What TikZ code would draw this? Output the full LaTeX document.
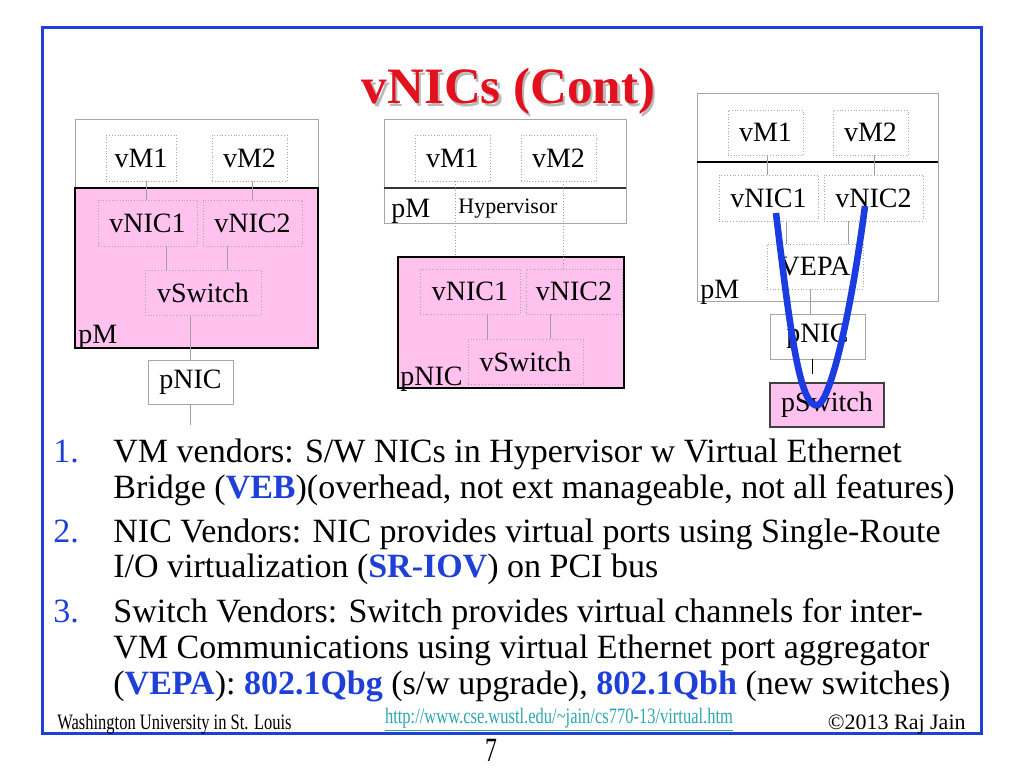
\documentclass[tikz,border=0pt]{standalone}
\usepackage{fontspec}
\setmainfont{Liberation Serif}
\usetikzlibrary{positioning,calc}
\definecolor{Fcolor}{HTML}{1E40D8}
\definecolor{Tcolor}{HTML}{E3101E}
\definecolor{Pcolor}{HTML}{FFC2EE}
\definecolor{Lcolor}{HTML}{2AA7B0}
\definecolor{Ucolor}{HTML}{1A3CE0}
\newcommand{\hilite}[1]{\textbf{\textcolor{Fcolor}{#1}}}

\begin{document}
\begin{tikzpicture}[
  x=0.5pt, y=-0.5pt,
  vbox/.style={draw=gray!70, densely dotted, inner sep=0pt, font=\fontsize{14}{16}\selectfont},
  pbox/.style={draw=gray!70, inner sep=0pt, font=\fontsize{14}{16}\selectfont},
  hostbox/.style={draw=gray!70, inner sep=0pt},
  pinkbox/.style={draw=black, fill=Pcolor, line width=0.8pt, inner sep=0pt},
  lbl/.style={anchor=base west, inner sep=0pt, font=\fontsize{14}{16}\selectfont},
  txt/.style={anchor=base west, inner sep=0pt, font=\fontsize{17}{20}\selectfont},
  num/.style={txt, text=Fcolor},
  foot/.style={inner sep=0pt, font=\fontsize{11}{13}\selectfont},
  link/.style={gray!75, thin},
  dlink/.style={gray!75, thin, densely dotted},
]
  \useasboundingbox (0,0) rectangle (1024,768);
  \draw[Fcolor, line width=1.5pt] (42,27) rectangle (981,733);

  % title
  \node[font=\bfseries\fontsize{25.5}{30}\selectfont, text=gray!55, anchor=base] (titleshadow) at (511,106) {vNICs (Cont)};
  \node[font=\bfseries\fontsize{25.5}{30}\selectfont, text=Tcolor, anchor=base] (title) at (508.5,103) {vNICs (Cont)};

  % software vNICs in the hypervisor
  \node[hostbox, minimum width=121.5pt, minimum height=114.5pt] (hosta) at (196.5,233.5) {};
  \node[pinkbox, minimum width=121.5pt, minimum height=80pt] (pinka) at (196.5,268) {};
  \node[vbox, minimum width=35pt, minimum height=23pt] (vma1) at (141,158) {vM1};
  \node[vbox, minimum width=37.5pt, minimum height=23pt] (vma2) at (249.5,158) {vM2};
  \node[vbox, minimum width=49.5pt, minimum height=23pt] (nica1) at (147.5,223) {vNIC1};
  \node[vbox, minimum width=49.5pt, minimum height=23pt] (nica2) at (252.5,223) {vNIC2};
  \node[vbox, minimum width=58pt, minimum height=22.5pt] (swa) at (203,292.5) {vSwitch};
  \node[lbl] (pma) at (78,343) {pM};
  \node[pbox, minimum width=42.5pt, minimum height=22pt] (pnica) at (190.5,382) {pNIC};
  \coordinate (pnicaend) at (190.5,425);

  \foreach \a/\b/\dx in {vma1/nica1/-0.75, vma2/nica2/0, nica1/swa/-18.5, nica2/swa/12, swa/pnica/0} {
    \draw[link] ([xshift=\dx pt]\b.north) -- ([xshift=\dx pt]\b.north |- \a.south);
  }
  \draw[link] (pnica.south) -- (pnicaend);

  % SR-IOV in the pNIC
  \node[hostbox, minimum width=121pt, minimum height=52pt] (hostb) at (505,171) {};
  \draw[black!80, semithick] (hostb.west |- 0,188) -- (hostb.east |- 0,188);
  \node[vbox, minimum width=37.5pt, minimum height=23pt] (vmb1) at (452.5,158) {vM1};
  \node[vbox, minimum width=37.5pt, minimum height=23pt] (vmb2) at (558.5,158) {vM2};
  \node[lbl] (pmb) at (391,217) {pM};
  \node[lbl, font=\fontsize{11}{13}\selectfont] (hyp) at (458,213) {Hypervisor};
  \node[pinkbox, minimum width=113pt, minimum height=65.5pt] (pinkb) at (511,322.5) {};
  \node[vbox, minimum width=50pt, minimum height=22.5pt] (nicb1) at (470,291.5) {vNIC1};
  \node[vbox, minimum width=48pt, minimum height=22.5pt] (nicb2) at (574,291.5) {vNIC2};
  \node[vbox, minimum width=57.5pt, minimum height=22.5pt] (swb) at (525.5,361.5) {vSwitch};
  \node[lbl] (pnicb) at (400,385) {pNIC};

  \draw[dlink] ([xshift=1.25pt]vmb1.south) -- ([xshift=1.25pt]vmb1.south |- pinkb.north);
  \draw[dlink] ([xshift=2.25pt]vmb2.south) -- ([xshift=2.25pt]vmb2.south |- nicb2.north);
  \foreach \a/\b/\dx in {nicb1/swb/-19.25, nicb2/swb/12.25} {
    \draw[link] ([xshift=\dx pt]\b.north) -- ([xshift=\dx pt]\b.north |- \a.south);
  }

  % VEPA in the pSwitch
  \node[hostbox, minimum width=120.5pt, minimum height=104pt] (hostc) at (817.5,197) {};
  \draw[black, semithick] (hostc.west |- 0,162) -- (hostc.east |- 0,162);
  \node[vbox, minimum width=37.5pt, minimum height=22.5pt] (vmc1) at (765.5,132.5) {vM1};
  \node[vbox, minimum width=37.5pt, minimum height=22.5pt] (vmc2) at (870.5,132.5) {vM2};
  \node[vbox, minimum width=49.5pt, minimum height=23pt] (nicc1) at (768.5,198) {vNIC1};
  \node[vbox, minimum width=49.5pt, minimum height=23pt] (nicc2) at (873.5,198) {vNIC2};
  \node[vbox, minimum width=48pt, minimum height=22.5pt] (vepa) at (815,266.5) {VEPA};
  \node[lbl] (pmc) at (700,298) {pM};
  \node[pbox, minimum width=47.5pt, minimum height=22.5pt] (pnicc) at (817.5,336.5) {pNIC};
  \node[draw=black!75, fill=Pcolor, semithick, inner sep=0pt, minimum width=57pt, minimum height=22pt,
        font=\fontsize{14}{16}\selectfont] (pswitch) at (827,405) {pSwitch};

  \foreach \a/\b/\dx in {vmc1/nicc1/-0.75, vmc2/nicc2/0.25, nicc1/vepa/-14.5, nicc2/vepa/16.5, vepa/pnicc/-3.75} {
    \draw[link] ([xshift=\dx pt]\b.north) -- ([xshift=\dx pt]\b.north |- \a.south);
  }
  \draw[black, shorten >=4pt] ([xshift=-7.5pt]pswitch.north |- pnicc.south) -- ([xshift=-7.5pt]pswitch.north);

  \coordinate (ua) at (776,213);
  \coordinate (ub) at (865,206);
  \draw[Ucolor, line width=3.3pt] (ua) .. controls (790,330) and (800,410) .. (818,405)
        .. controls (830,400) and (850,320) .. (ub);

  % list
  \node[num] (n1) at (53,462) {1.};
  \node[txt] (t1a) at (113,462) {VM vendors: S/W NICs in Hypervisor w Virtual Ethernet};
  \node[txt] (t1b) at (113,498) {Bridge (\hilite{VEB})(overhead, not ext manageable, not all features)};
  \node[num] (n2) at (53,542) {2.};
  \node[txt] (t2a) at (113,542) {NIC Vendors: NIC provides virtual ports using Single-Route};
  \node[txt] (t2b) at (113,577) {I/O virtualization (\hilite{SR-IOV}) on PCI bus};
  \node[num] (n3) at (53,622) {3.};
  \node[txt] (t3a) at (113,622) {Switch Vendors: Switch provides virtual channels for inter-};
  \node[txt] (t3b) at (113,658) {VM Communications using virtual Ethernet port aggregator};
  \node[txt] (t3c) at (113,694) {(\hilite{VEPA}): \hilite{802.1Qbg} (s/w upgrade), \hilite{802.1Qbh} (new switches)};

  % footer
  \node[foot, anchor=base west] (univ) at (57,729) {\scalebox{0.75}[1]{Washington University in St. Louis}};
  \node[foot, anchor=base, text=Lcolor] (url) at (559,723) {\scalebox{0.75}[1]{\underline{http://www.cse.wustl.edu/\textasciitilde jain/cs770-13/virtual.htm}}};
  \node[foot, anchor=base east] (copy) at (966,729) {©2013 Raj Jain};
  \node[anchor=base, inner sep=0pt, font=\fontsize{17}{20}\selectfont] (pagenum) at (491,761) {\scalebox{0.7}[1]{7}};
\end{tikzpicture}
\end{document}
